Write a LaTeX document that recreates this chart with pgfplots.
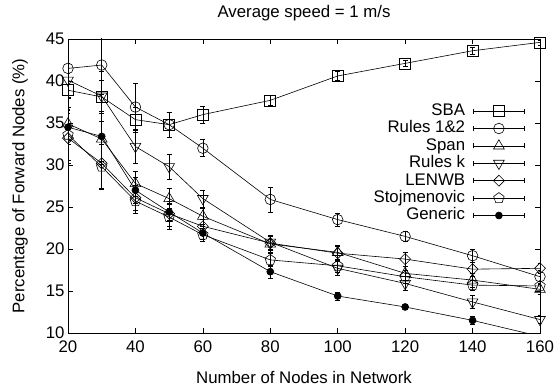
\documentclass[border=0pt]{standalone}
\usepackage{fontspec}
\setmainfont{Liberation Sans}
\usepackage{pgfplots}
\pgfplotsset{compat=1.18}
\usepackage{pgfplotstable}

\pgfplotstableread{
x y e
20 38.9 2.0
30 38.1 2.0
40 35.4 1.5
50 34.8 1.5
60 36.0 1.0
80 37.7 0.6
100 40.6 0.5
120 42.1 0.4
140 43.6 0.4
160 44.6 0.3
}\sba
\pgfplotstableread{
x y e
20 41.5 3.5
30 41.9 3.5
40 36.9 2.8
50 34.8 1.5
60 32.0 1.0
80 25.9 1.5
100 23.5 0.8
120 21.5 0.6
140 19.2 0.8
160 16.7 0.8
}\rulesab
\pgfplotstableread{
x y e
20 34.9 2.0
30 33.1 3.0
40 27.8 1.5
50 26.0 1.2
60 23.9 1.0
80 20.6 1.0
100 19.6 0.8
120 17.1 0.8
140 16.3 0.8
160 15.2 0.6
}\span
\pgfplotstableread{
x y e
20 40.1 2.0
30 38.2 3.0
40 32.2 2.0
50 29.8 1.5
60 26.0 1.0
80 20.8 0.8
100 17.7 0.8
120 15.9 0.8
140 13.7 0.8
160 11.6 0.5
}\rulesk
\pgfplotstableread{
x y e
20 33.2 3.0
30 30.2 3.0
40 26.1 1.5
50 24.2 1.5
60 22.7 0.8
80 20.7 0.8
100 19.5 0.8
120 18.8 0.8
140 17.6 0.8
160 17.7 0.6
}\lenwb
\pgfplotstableread{
x y e
20 33.6 3.0
30 29.8 2.7
40 25.7 1.5
50 23.8 1.5
60 21.7 0.8
80 18.7 0.8
100 18.0 0.8
120 16.7 0.8
140 15.7 0.6
160 15.6 0.6
}\stoj
\pgfplotstableread{
x y e
20 34.5 2.0
30 33.4 3.0
40 27.0 1.5
50 24.4 1.0
60 21.9 0.8
80 17.3 0.8
100 14.4 0.5
120 13.1 0.3
140 11.5 0.5
}\generic

\begin{document}
\begin{tikzpicture}
\pgfplotsset{
  eb/.style={error bars/.cd, y dir=both, y explicit,
    error bar style={line width=0.6bp, solid},
    error mark options={rotate=90, mark size=2.5bp, line width=0.6bp}},
}
\begin{axis}[
  scale only axis,
  width=472bp, height=294bp,
  xmin=20, xmax=160, ymin=10, ymax=45,
  xtick={20,40,...,160}, ytick={10,15,...,45},
  tick align=inside, major tick length=5bp,
  tick style={black, line width=0.6bp},
  axis line style={line width=0.8bp},
  font=\fontsize{16.8bp}{19bp}\selectfont,
  /pgf/number format/assume math mode=true,
  xticklabel style={yshift=-4bp},
  every axis title shift=0pt,
  title={Average speed = 1 m/s},
  title style={at={(axis description cs:0.5,1.0884)}, anchor=center},
  xlabel={Number of Nodes in Network},
  xlabel style={at={(axis description cs:0.5,-0.1497)}, anchor=center},
  ylabel={Percentage of Forward Nodes (\%)},
  ylabel style={at={(axis description cs:-0.1017,0.5)}, anchor=center},
  legend cell align=right,
  legend plot pos=right,
  legend style={draw=none, fill=none, at={(axis description cs:0.968,0.785)},
    anchor=north east, inner sep=0pt, row sep=0pt, column sep=7bp,
    nodes={inner sep=1bp, text height=12bp, text depth=3.4bp}},
  legend image code/.code={
    \draw[mark repeat=2,mark phase=2,#1] plot coordinates {(0bp,0bp) (25.5bp,0bp) (51bp,0bp)};
    \draw[#1] (0bp,-2.5bp)--(0bp,2.5bp) (51bp,-2.5bp)--(51bp,2.5bp);
  },
]
\addplot[black, line width=0.6bp, mark=square, mark size=5.5bp, eb] table[x=x,y=y,y error=e] {\sba};
\addlegendentry{SBA}
\addplot[black, line width=0.6bp, mark=o, mark size=5.3bp, eb] table[x=x,y=y,y error=e] {\rulesab};
\addlegendentry{Rules 1\&2}
\addplot[black, line width=0.6bp, mark=triangle, mark size=6.2bp, eb] table[x=x,y=y,y error=e] {\span};
\addlegendentry{Span}
\addplot[black, line width=0.6bp, mark=triangle, mark size=6.2bp, mark options={rotate=180}, eb] table[x=x,y=y,y error=e] {\rulesk};
\addlegendentry{Rules k}
\addplot[black, line width=0.6bp, mark=diamond, mark size=5.5bp, mark options={xscale=1.33}, eb] table[x=x,y=y,y error=e] {\lenwb};
\addlegendentry{LENWB}
\addplot[black, line width=0.6bp, mark=pentagon, mark size=5.5bp, eb] table[x=x,y=y,y error=e] {\stoj};
\addlegendentry{Stojmenovic}
\addplot[black, line width=0.6bp, mark=*, mark size=3.5bp, mark options={fill=black}, eb] table[x=x,y=y,y error=e] {\generic};
\addlegendentry{Generic}
\addplot[black, line width=0.6bp, mark=none, forget plot] coordinates {(140,11.5) (160,9.6)};
\end{axis}
\pgfresetboundingbox
\path[use as bounding box] (-68bp,-57bp) rectangle (486bp,333bp);
\end{tikzpicture}
\end{document}
